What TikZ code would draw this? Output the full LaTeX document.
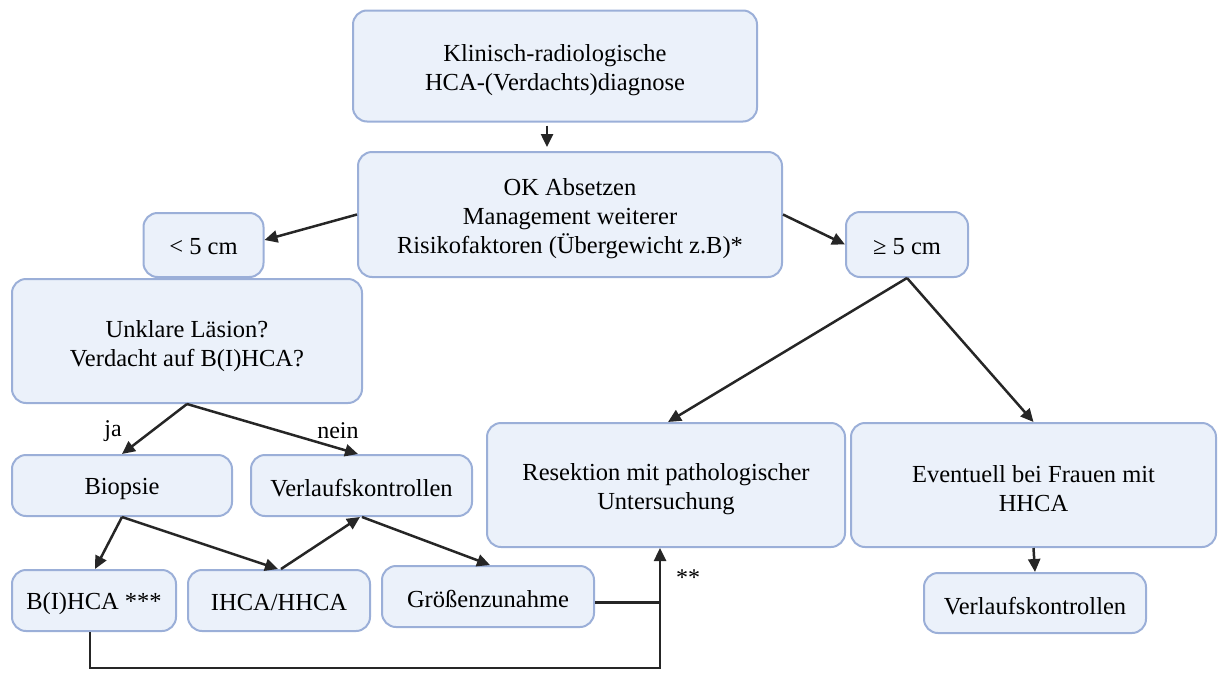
\documentclass[tikz,border=0pt]{standalone}
\usepackage{fontspec}
\setmainfont{Liberation Serif}
\usetikzlibrary{arrows.meta}
\definecolor{boxfill}{HTML}{EBF1FA}
\definecolor{boxline}{HTML}{9BAFD8}
\begin{document}
\begin{tikzpicture}[x=1pt,y=-1pt,
  box/.style={draw=boxline, fill=boxfill, line width=2pt, rounded corners=14pt, inner sep=0pt},
  txt/.style={align=center, font=\fontsize{24.5}{29}\selectfont, inner sep=0pt},
  arr/.style={-{Triangle[length=13pt,width=12pt]}, line width=2.5pt, draw=black!85},
  plainline/.style={line width=2.5pt, draw=black!85},
  lab/.style={font=\fontsize{24}{28}\selectfont, inner sep=0pt}]
\useasboundingbox (0,0) rectangle (1218,672);

\node[box, minimum width=404pt, minimum height=111pt] (top) at (555,66) {};
\node[box, minimum width=424pt, minimum height=125pt] (ok) at (570,214.5) {};
\node[box, minimum width=120pt, minimum height=64pt] (lt5) at (203.5,245) {};
\node[box, minimum width=122pt, minimum height=65pt] (ge5) at (907,244.5) {};
\node[box, minimum width=350pt, minimum height=124pt] (unk) at (187,341) {};
\node[box, minimum width=220pt, minimum height=61pt] (bio) at (122,485.5) {};
\node[box, minimum width=221pt, minimum height=61pt] (vk1) at (361.5,485.5) {};
\node[box, minimum width=164pt, minimum height=61pt] (bih) at (94,600.5) {};
\node[box, minimum width=182pt, minimum height=61pt] (ihh) at (279,600.5) {};
\node[box, minimum width=212pt, minimum height=61pt] (grz) at (488,596.5) {};
\node[box, minimum width=358pt, minimum height=124pt] (res) at (666,485) {};
\node[box, minimum width=365pt, minimum height=124pt] (evt) at (1033.5,485) {};
\node[box, minimum width=222pt, minimum height=60pt] (vk2) at (1035,603) {};

\node[txt] (topt) at ([yshift=-4pt]top.center) {Klinisch-radiologische\\HCA-(Verdachts)diagnose};
\node[txt] (okt) at ([yshift=-4pt]ok.center) {OK Absetzen\\Management weiterer\\Risikofaktoren (Übergewicht z.B)*};
\node[txt] (lt5t) at ([yshift=-2pt]lt5.center) {< 5 cm};
\node[txt] (ge5t) at ([yshift=-2pt]ge5.center) {≥ 5 cm};
\node[txt] (unkt) at ([yshift=-5pt]unk.center) {Unklare Läsion?\\Verdacht auf B(I)HCA?};
\node[txt] (biot) at ([yshift=-3pt]bio.center) {Biopsie};
\node[txt] (vk1t) at ([yshift=-3pt]vk1.center) {Verlaufskontrollen};
\node[txt] (biht) at ([yshift=-3pt]bih.center) {B(I)HCA ***};
\node[txt] (ihht) at ([yshift=-2pt]ihh.center) {IHCA/HHCA};
\node[txt] (grzt) at ([yshift=-2pt]grz.center) {Größenzunahme};
\node[txt] (rest) at ([yshift=-4pt]res.center) {Resektion mit pathologischer\\Untersuchung};
\node[txt] (evtt) at ([yshift=-4pt]evt.center) {Eventuell bei Frauen mit\\HHCA};
\node[txt] (vk2t) at ([yshift=-3pt]vk2.center) {Verlaufskontrollen};

\node[lab] (ja) at (113,431) {ja};
\node[lab] (nein) at (338,431) {nein};
\node[lab] (st) at (688,578) {**};

\draw[arr] ([xshift=-8pt,yshift=-3pt]top.south) -- ([xshift=-23pt,yshift=4pt]ok.north);
\draw[arr] (ok.west) -- ([yshift=5pt]lt5.east);
\draw[arr] (ok.east) -- (ge5.west);
\draw[arr] (ge5.south) -- ([xshift=2pt]res.north);
\draw[arr] (ge5.south) -- (evt.north);
\draw[arr] (unk.south) -- (bio.north);
\draw[arr] (unk.south) -- ([xshift=-3.5pt]vk1.north);
\draw[arr] (bio.south) -- ([xshift=1pt]bih.north);
\draw[arr] (bio.south) -- ([xshift=-1pt]ihh.north);
\draw[arr] ([xshift=2pt]ihh.north) -- ([xshift=-1.5pt]vk1.south);
\draw[arr] ([xshift=0.5pt]vk1.south) -- ([xshift=2pt]grz.north);
\draw[arr] (evt.south) -- (vk2.north);

\coordinate (j) at (660,668);
\coordinate (g) at ([yshift=-6pt]grz.east);
\draw[arr] ([xshift=-4pt]bih.south) |- (j) -- (res.south -| j);
\draw[plainline] (g) -- (g -| j);
\end{tikzpicture}
\end{document}
